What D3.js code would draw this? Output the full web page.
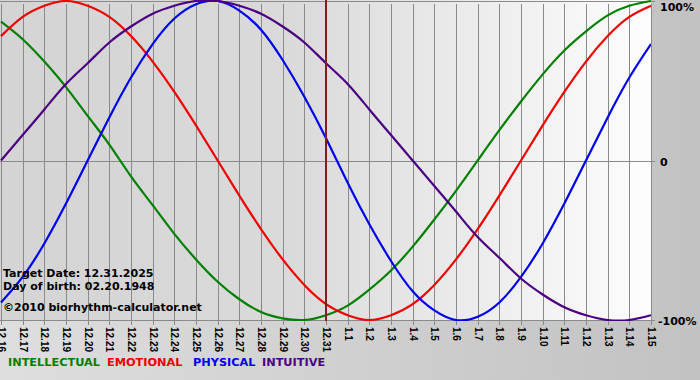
<!DOCTYPE html>
<html>
<head>
<meta charset="utf-8">
<script src="https://cdn.jsdelivr.net/npm/d3@7"></script>
<style>
  html, body { margin: 0; padding: 0; background: #c8c8c8; }
  svg { display: block; }
</style>
</head>
<body>
<svg id="chart" width="700" height="380"></svg>
<script>
// day labels along the bottom
const dates = ["12.16","12.17","12.18","12.19","12.20","12.21","12.22","12.23","12.24","12.25",
  "12.26","12.27","12.28","12.29","12.30","12.31","1.1","1.2","1.3","1.4","1.5","1.6","1.7",
  "1.8","1.9","1.10","1.11","1.12","1.13","1.14","1.15"];
const targetIndex = 15; // 12.31

// values per day, -1 .. 1
const intellectual = [0.87,0.76,0.62,0.46,0.28,0.10,-0.10,-0.28,-0.46,-0.62,-0.76,-0.87,-0.95,-0.99,-1.00,-0.97,
  -0.91,-0.81,-0.69,-0.54,-0.37,-0.19,0,0.19,0.37,0.54,0.69,0.81,0.91,0.97,1.00];
const emotional = [0.78,0.90,0.97,1.00,0.97,0.90,0.78,0.62,0.43,0.22,0,-0.22,-0.43,-0.62,-0.78,-0.90,
  -0.97,-1.00,-0.97,-0.90,-0.78,-0.62,-0.43,-0.22,0,0.22,0.43,0.62,0.78,0.90,0.97];
const physical = [-0.89,-0.73,-0.52,-0.27,0,0.27,0.52,0.73,0.89,0.98,1.00,0.94,0.82,0.63,0.40,0.14,
  -0.14,-0.40,-0.63,-0.82,-0.94,-1.00,-0.98,-0.89,-0.73,-0.52,-0.27,0,0.27,0.52,0.73];
const intuitive = [0,0.16,0.32,0.48,0.61,0.74,0.84,0.92,0.97,1.00,1.00,0.97,0.92,0.84,0.74,0.61,
  0.48,0.32,0.16,0,-0.16,-0.32,-0.48,-0.61,-0.74,-0.84,-0.92,-0.97,-1.00,-1.00,-0.97];

const seriesNames = ["INTELLECTUAL","EMOTIONAL","PHYSICAL","INTUITIVE"];
const yLabels = ["100%","0","-100%"];
const infoLines = ["Target Date: 12.31.2025","Day of birth: 02.20.1948","\u00a92010 biorhythm-calculator.net"];

const colors = {INTELLECTUAL: "#008000", EMOTIONAL: "#ee0000", PHYSICAL: "#0000ee", INTUITIVE: "#4b0082"};
const series = [
  {name: "INTELLECTUAL", values: intellectual},
  {name: "EMOTIONAL", values: emotional},
  {name: "PHYSICAL", values: physical},
  {name: "INTUITIVE", values: intuitive}];

const svg = d3.select("#chart");
const pw = 651, ph = 321;

const x = d3.scaleLinear().domain([0, dates.length - 1]).range([1, pw]);
const y = d3.scaleLinear().domain([-1, 1]).range([320, 1]);

const defs = svg.append("defs");
const bgGrad = defs.append("linearGradient").attr("id", "bg").attr("x1", 0).attr("x2", 1).attr("y1", 0).attr("y2", 0);
bgGrad.append("stop").attr("offset", "0%").attr("stop-color", "#dedede");
bgGrad.append("stop").attr("offset", "100%").attr("stop-color", "#c2c2c2");
const plotGrad = defs.append("linearGradient").attr("id", "plotbg").attr("x1", 0).attr("x2", 1).attr("y1", 0).attr("y2", 0);
plotGrad.append("stop").attr("offset", "0%").attr("stop-color", "#d4d4d4");
plotGrad.append("stop").attr("offset", "45%").attr("stop-color", "#dadada");
plotGrad.append("stop").attr("offset", "100%").attr("stop-color", "#fdfdfd");
defs.append("clipPath").attr("id", "clip").append("rect").attr("x", 0).attr("y", 0).attr("width", pw).attr("height", ph);

svg.append("rect").attr("width", 700).attr("height", 380).attr("fill", "url(#bg)");
svg.append("rect").attr("width", pw).attr("height", ph).attr("fill", "url(#plotbg)");

// vertical grid + rotated day labels
const xAxis = d3.axisBottom(x).tickValues(d3.range(dates.length)).tickFormat(i => dates[i])
  .tickSizeInner(-ph).tickSizeOuter(0);
const gx = svg.append("g").attr("transform", `translate(0,${ph + 4})`).call(xAxis);
gx.select(".domain").remove();
gx.selectAll("line").attr("stroke", "#8a8a8a").attr("shape-rendering", "crispEdges");
gx.selectAll("text")
  .attr("transform", "rotate(90)")
  .attr("x", 2).attr("y", 0).attr("dy", "0.35em")
  .style("text-anchor", "start")
  .style("font-family", "'Liberation Sans', Arial, sans-serif")
  .style("font-weight", "bold")
  .style("font-size", "10px")
  .attr("fill", "#000");

// horizontal lines at 100%, 0, -100%
svg.append("g").selectAll("line").data([1, 0, -1]).enter().append("line")
  .attr("x1", 0).attr("x2", pw + 4)
  .attr("y1", d => Math.round(y(d)) + 0.5).attr("y2", d => Math.round(y(d)) + 0.5)
  .attr("stroke", "#8a8a8a");

// right hand labels
svg.append("g").selectAll("text").data(yLabels).enter().append("text")
  .attr("x", (d, i) => i == 2 ? 658 : 660)
  .attr("y", (d, i) => i == 0 ? y(1) + 10 : y([1, 0, -1][i]) + 5)
  .text(d => d)
  .style("font-family", "'DejaVu Sans', Verdana, sans-serif")
  .style("font-weight", "bold").style("font-size", "11px").attr("fill", "#000");

// curves
const line = d3.line().x((d, i) => x(i)).y(d => y(d)).curve(d3.curveNatural);
svg.append("g").attr("clip-path", "url(#clip)").selectAll("path").data(series).enter().append("path")
  .attr("d", d => line(d.values))
  .attr("fill", "none")
  .attr("stroke", d => colors[d.name])
  .attr("stroke-width", 2.2);

// target day marker
svg.append("line")
  .attr("x1", x(targetIndex)).attr("x2", x(targetIndex))
  .attr("y1", 0).attr("y2", ph)
  .attr("stroke", "#7e2020").attr("stroke-width", 2);

// info text
svg.append("g").selectAll("text").data(infoLines).enter().append("text")
  .attr("x", 3)
  .attr("y", (d, i) => [277, 290, 311][i])
  .text(d => d)
  .style("font-family", "'DejaVu Sans', Verdana, sans-serif")
  .style("font-weight", "bold").style("font-size", "11px").attr("fill", "#000");

// legend
const legendX = [8, 107, 193, 262];
svg.append("g").selectAll("text").data(seriesNames).enter().append("text")
  .attr("x", (d, i) => legendX[i]).attr("y", 366)
  .text(d => d)
  .attr("fill", d => colors[d])
  .style("font-family", "'DejaVu Sans', Verdana, sans-serif")
  .style("font-weight", "bold").style("font-size", "11.3px");
</script>
</body>
</html>
